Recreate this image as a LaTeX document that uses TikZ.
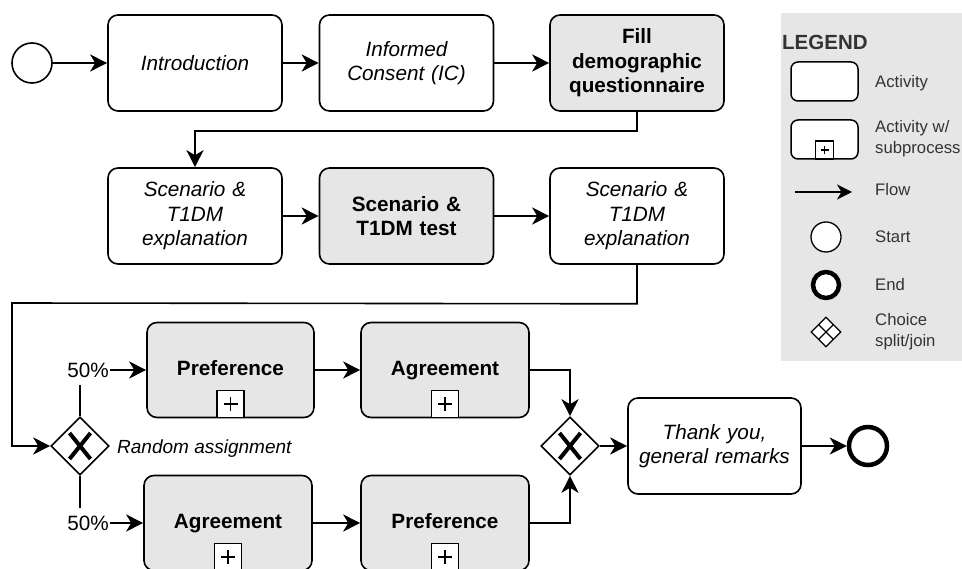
\documentclass[tikz,border=0pt]{standalone}
\usepackage{fontspec}
\setmainfont{Liberation Sans}
\usetikzlibrary{arrows.meta,shapes.geometric}
\definecolor{actgray}{HTML}{E6E6E6}
\definecolor{legtext}{HTML}{333333}
\tikzset{
  every node/.style={font=\fontsize{20.7}{24.5}\selectfont},
  act/.style={draw, rounded corners=10pt, line width=1.6pt, minimum width=174pt,
    minimum height=96pt, text width=160pt, align=center, inner sep=0pt, fill=white},
  actg/.style={act, fill=actgray, font=\fontsize{20.7}{24.5}\selectfont\bfseries},
  acti/.style={act, font=\fontsize{20.7}{24.5}\selectfont\itshape},
  subact/.style={actg, minimum width=168pt, minimum height=95pt, text height=15pt, text depth=4.5pt},
  flow/.style={line width=1.6pt, -{Stealth[length=17pt,width=17pt,inset=5pt]}},
  plainline/.style={line width=1.6pt},
  gate/.style={draw, diamond, line width=1.6pt, minimum width=58pt, minimum height=58pt,
    inner sep=0pt, fill=white},
  subbox/.style={draw, line width=1.5pt, minimum size=27pt, inner sep=0pt, fill=white},
  pct/.style={inner sep=1pt},
  legtxt/.style={text=legtext, anchor=west, align=left, inner sep=0pt,
    font=\fontsize{16.7}{19}\selectfont},
}
\newcommand{\plusmark}[1]{%
  \draw[line width=1.4pt] ([xshift=-7pt]#1.center) -- ([xshift=7pt]#1.center)
    ([yshift=-7pt]#1.center) -- ([yshift=7pt]#1.center);}
\newcommand{\gatecross}[1]{%
  \draw[line width=4pt] ([shift={(-10.5pt,-13pt)}]#1.center) -- ([shift={(10.5pt,13pt)}]#1.center)
    ([shift={(-10.5pt,13pt)}]#1.center) -- ([shift={(10.5pt,-13pt)}]#1.center);}
\begin{document}
\begin{tikzpicture}[x=1pt,y=-1pt]
\useasboundingbox (0,0) rectangle (962,569);

% legend panel
\fill[actgray] (781,13) rectangle (962,361);
\node[legtxt, font=\fontsize{20.5}{22}\selectfont\bfseries] (legtitle) at (782,42) {LEGEND};
\node[draw, rounded corners=7pt, line width=1.5pt, fill=white, minimum width=67pt,
  minimum height=39pt, inner sep=0pt] (legact) at (824.5,81.5) {};
\node[legtxt] (legacttxt) at (875,83) {Activity};
\node[draw, rounded corners=7pt, line width=1.5pt, fill=white, minimum width=67pt,
  minimum height=39pt, inner sep=0pt] (legsub) at (824.5,139.5) {};
\node[draw, line width=1.3pt, fill=white, minimum size=18pt, inner sep=0pt, anchor=south]
  (legsubbox) at (legsub.south) {};
\draw[line width=1.2pt] ([xshift=-4pt]legsubbox.center) -- ([xshift=4pt]legsubbox.center)
  ([yshift=-4pt]legsubbox.center) -- ([yshift=4pt]legsubbox.center);
\node[legtxt, font=\fontsize{16.7}{21}\selectfont] (legsubtxt) at (875,139) {Activity w/\\subprocess};
\coordinate (legflowa) at (795,192);
\coordinate (legflowb) at (852,192);
\draw[line width=1.4pt, -{Stealth[length=15pt,width=15pt,inset=4.5pt]}] (legflowa) -- (legflowb);
\node[legtxt] (legflowtxt) at (875,190) {Flow};
\node[draw, circle, line width=1.3pt, fill=white, minimum size=30pt, inner sep=0pt]
  (legstart) at (826,237) {};
\node[legtxt] (legstarttxt) at (875,237) {Start};
\node[draw, circle, line width=4.5pt, fill=white, minimum size=26pt, inner sep=0pt]
  (legend) at (826,285) {};
\node[legtxt] (legendtxt) at (875,285) {End};
\node[draw, diamond, line width=1.3pt, fill=white, minimum width=30pt, minimum height=30pt,
  inner sep=0pt] (leggate) at (826,332) {};
\draw[line width=1.2pt] ([shift={(-7.5pt,-7.5pt)}]leggate.center) -- ([shift={(7.5pt,7.5pt)}]leggate.center)
  ([shift={(-7.5pt,7.5pt)}]leggate.center) -- ([shift={(7.5pt,-7.5pt)}]leggate.center);
\node[legtxt, font=\fontsize{16.7}{21}\selectfont] (leggatetxt) at (875,332) {Choice\\split/join};

% first row
\node[draw, circle, line width=1.6pt, minimum size=40pt, inner sep=0pt] (start) at (32,63) {};
\node[acti] (intro) at (195,63) {Introduction};
\node[acti] (ic) at (406.5,63) {Informed\\Consent (IC)};
\node[actg] (demo) at (637,63) {Fill\\demographic\\questionnaire};
\draw[flow] (start) -- (intro);
\draw[flow] (intro) -- (ic);
\draw[flow] (ic) -- (demo);

% second row
\node[acti] (scen1) at (195,216) {Scenario \&\\T1DM\\explanation};
\node[actg] (test) at (406.5,216) {Scenario \&\\T1DM test};
\node[acti] (scen2) at (637,216) {Scenario \&\\T1DM\\explanation};
\draw[flow] (demo.south) -- ++(0,19) -| (scen1.north);
\draw[flow] (scen1) -- (test);
\draw[flow] (test) -- (scen2);

% random split
\node[gate] (split) at (80,446) {};
\gatecross{split}
\draw[flow] (scen2.south) -- ++(0,39) -- (12,303) |- (split.west);
\node[font=\fontsize{19}{22}\selectfont\itshape, anchor=west, inner sep=0pt] (randlbl)
  at (117,449) {Random assignment};

% upper branch
\node[subact, minimum width=167pt] (pref1) at (230.5,370) {Preference};
\node[subact] (agr1) at (445,370) {Agreement};
\node[subbox, anchor=south] (pref1sub) at (pref1.south) {};
\plusmark{pref1sub}
\node[subbox, anchor=south] (agr1sub) at (agr1.south) {};
\plusmark{agr1sub}
\node[pct] (pcttop) at (88,370) {50\%};
\draw[plainline] (split.north) -- (split.north |- 0,385);
\draw[flow] (pcttop.east) -- (pref1.west);
\draw[flow] (pref1) -- (agr1);

% lower branch
\node[subact] (agr2) at (228,523) {Agreement};
\node[subact] (pref2) at (445,523) {Preference};
\node[subbox, anchor=south] (agr2sub) at (agr2.south) {};
\plusmark{agr2sub}
\node[subbox, anchor=south] (pref2sub) at (pref2.south) {};
\plusmark{pref2sub}
\node[pct] (pctbot) at (88,523) {50\%};
\draw[plainline] (split.south) -- (split.south |- 0,508);
\draw[flow] (pctbot.east) -- (agr2.west);
\draw[flow] (agr2) -- (pref2);

% join and end
\node[gate] (join) at (570,446) {};
\gatecross{join}
\draw[flow] (agr1.east) -| (join.north);
\draw[flow] (pref2.east) -| (join.south);
\node[acti, minimum width=173pt] (thanks) at (714.5,446) {Thank you,\\general remarks};
\draw[flow] (join) -- (thanks);
\node[draw, circle, line width=4.5pt, minimum size=38pt, inner sep=0pt] (finish) at (868,446) {};
\draw[flow] (thanks) -- (finish);
\end{tikzpicture}
\end{document}
